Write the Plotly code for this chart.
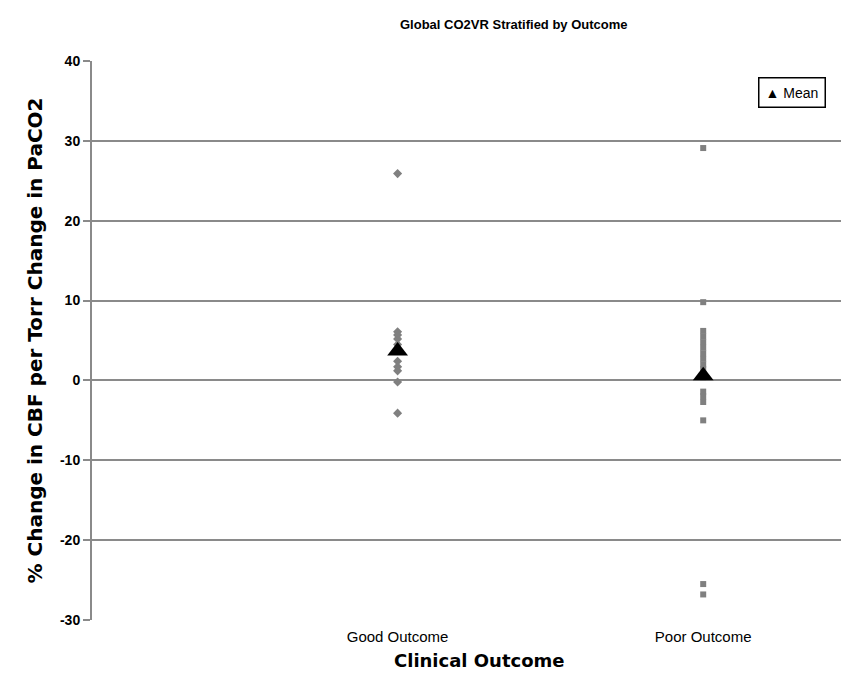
import plotly.graph_objects as go

categories = ["Good Outcome", "Poor Outcome"]
cat_pos = [1, 2]

good_values = [25.9, 6.1, 5.7, 5.2, 4.5, 3.8, 2.4, 1.7, 1.2, -0.2, -4.1]
poor_values = [29.1, 9.8, 6.2, 5.5, 4.8, 4.1, 3.4, 2.7, 2.0, 1.4, 0.8, 0.3,
               -1.4, -2.0, -2.7, -5.0, -25.5, -26.8]
mean_values = [3.7, 0.6]

y_ticks = [-30, -20, -10, 0, 10, 20, 30, 40]
y_tick_labels = ["-30", "-20", "-10", "0", "10", "20", "30", "40"]

GRAY = "#8a8a8a"
PT = "#808080"
FONT = "Liberation Sans, Arial, sans-serif"
BOLDF = "DejaVu Sans, sans-serif"

# plot area geometry (pixels)
L, R, T, B = 84, 848, 53, 612
W, H = R - L, B - T

fig = go.Figure()
fig.add_trace(go.Scatter(
    x=[cat_pos[0]] * len(good_values), y=good_values, mode="markers",
    name="Good Outcome", showlegend=False,
    marker=dict(symbol="diamond", size=7, color=PT)))
fig.add_trace(go.Scatter(
    x=[cat_pos[1]] * len(poor_values), y=poor_values, mode="markers",
    name="Poor Outcome", showlegend=False,
    marker=dict(symbol="square", size=6, color=PT)))
fig.add_trace(go.Scatter(
    x=cat_pos, y=mean_values, mode="markers", name="Mean", showlegend=False,
    marker=dict(symbol="triangle-up", size=18, color="black")))

fig.update_layout(
    width=849, height=676,
    margin=dict(l=L, r=849 - R, t=T, b=676 - B),
    paper_bgcolor="white", plot_bgcolor="white",
    font=dict(family=FONT, color="black"),
    xaxis=dict(
        range=[0, 2.5], tickvals=cat_pos, ticktext=categories,
        showgrid=False, zeroline=False, showline=False, ticks="",
        ticklabelstandoff=6,
        tickfont=dict(size=15, family=FONT),
    ),
    yaxis=dict(
        range=[-30, 40], tickvals=y_ticks, ticktext=y_tick_labels,
        showgrid=True, gridcolor=GRAY, gridwidth=2,
        zeroline=False, showline=True, linecolor=GRAY, linewidth=2,
        ticks="outside", ticklen=7, tickcolor=GRAY, tickwidth=2,
        tickfont=dict(size=14, family=FONT, weight="bold"),
        title=dict(text="% Change in CBF per Torr Change in PaCO2", standoff=12,
                   font=dict(size=20, family=BOLDF, weight="bold")),
    ),
    annotations=[
        dict(text="Global CO2VR Stratified by Outcome", xref="paper", yref="paper",
             x=(506 - L) / W, y=1, yshift=37, xanchor="center", yanchor="middle",
             showarrow=False, font=dict(size=13, family=FONT, weight="bold")),
        dict(text="Clinical Outcome", xref="paper", yref="paper",
             x=(471 - L) / W, y=(B - 652) / H, xanchor="center", yanchor="middle",
             showarrow=False, font=dict(size=18, family=BOLDF, weight="bold")),
        dict(text="\u25b2 Mean", xref="paper", yref="paper",
             x=(784 - L) / W, y=(B - 84) / H, xanchor="center", yanchor="middle",
             showarrow=False, bordercolor="black", borderwidth=1.5, borderpad=6,
             bgcolor="white", font=dict(size=14, family=FONT)),
    ],
)

fig.write_html("out.html")
